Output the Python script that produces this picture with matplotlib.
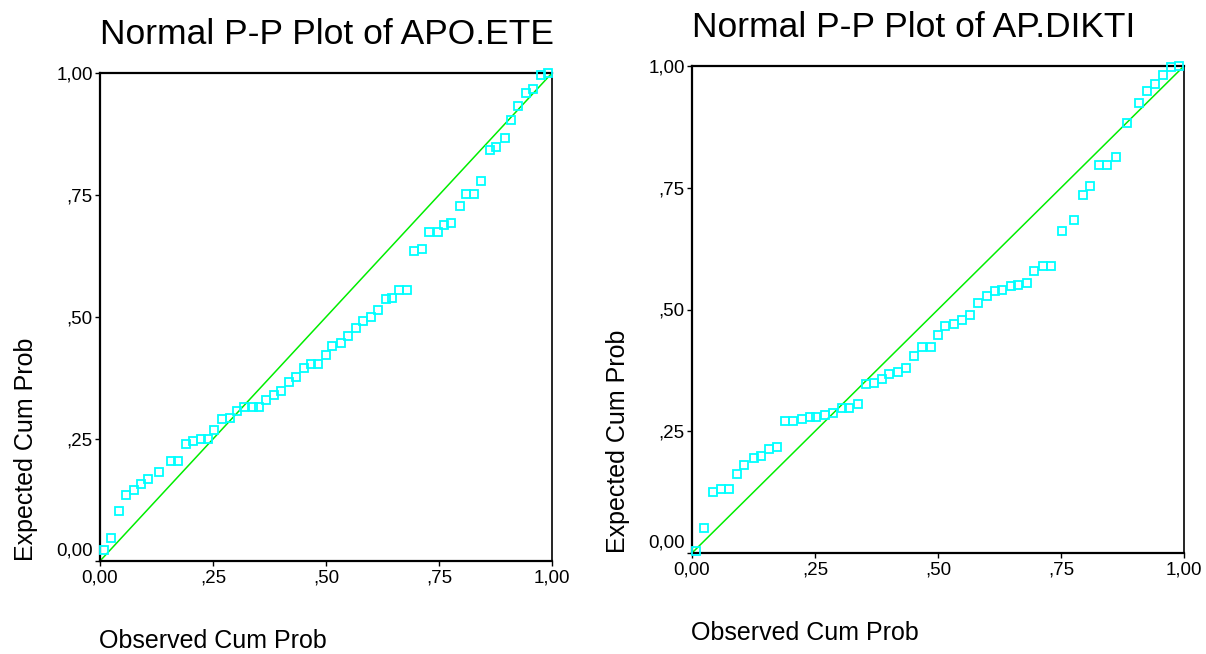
import matplotlib
matplotlib.use("Agg")
import matplotlib.pyplot as plt

plt.rcParams["font.family"] = ["Liberation Sans", "DejaVu Sans"]

# observed / expected cumulative probabilities
apo_obs = [0.009, 0.024, 0.043, 0.057, 0.076, 0.091, 0.106, 0.131, 0.157, 0.172,
           0.190, 0.205, 0.223, 0.238, 0.253, 0.271, 0.287, 0.304, 0.319, 0.338,
           0.352, 0.368, 0.385, 0.400, 0.419, 0.433, 0.452, 0.466, 0.483, 0.500,
           0.514, 0.533, 0.549, 0.566, 0.581, 0.599, 0.614, 0.632, 0.647, 0.662,
           0.680, 0.695, 0.713, 0.728, 0.747, 0.761, 0.777, 0.796, 0.809, 0.827,
           0.844, 0.862, 0.877, 0.895, 0.909, 0.925, 0.942, 0.958, 0.975, 0.991]
apo_exp = [0.022, 0.047, 0.102, 0.135, 0.146, 0.157, 0.168, 0.182, 0.204, 0.204,
           0.240, 0.245, 0.249, 0.249, 0.268, 0.290, 0.293, 0.307, 0.316, 0.316,
           0.316, 0.329, 0.341, 0.348, 0.367, 0.377, 0.396, 0.403, 0.403, 0.422,
           0.441, 0.447, 0.462, 0.477, 0.492, 0.500, 0.514, 0.536, 0.539, 0.555,
           0.555, 0.635, 0.639, 0.674, 0.674, 0.688, 0.693, 0.727, 0.753, 0.753,
           0.779, 0.842, 0.848, 0.867, 0.904, 0.932, 0.959, 0.967, 0.995, 0.999]

dikti_obs = [0.008, 0.024, 0.043, 0.059, 0.076, 0.091, 0.106, 0.125, 0.140, 0.157,
             0.173, 0.190, 0.206, 0.223, 0.240, 0.253, 0.270, 0.287, 0.304, 0.320,
             0.338, 0.353, 0.369, 0.386, 0.401, 0.418, 0.434, 0.452, 0.468, 0.485,
             0.499, 0.514, 0.532, 0.548, 0.566, 0.582, 0.599, 0.615, 0.631, 0.648,
             0.663, 0.680, 0.695, 0.714, 0.729, 0.753, 0.776, 0.794, 0.809, 0.828,
             0.843, 0.861, 0.884, 0.909, 0.925, 0.942, 0.957, 0.973, 0.989]
dikti_exp = [0.005, 0.052, 0.125, 0.132, 0.132, 0.162, 0.180, 0.196, 0.199, 0.214,
             0.218, 0.272, 0.272, 0.276, 0.279, 0.279, 0.284, 0.287, 0.298, 0.298,
             0.305, 0.346, 0.349, 0.357, 0.367, 0.372, 0.379, 0.404, 0.423, 0.423,
             0.448, 0.467, 0.471, 0.478, 0.489, 0.514, 0.527, 0.537, 0.541, 0.548,
             0.551, 0.555, 0.580, 0.589, 0.589, 0.661, 0.684, 0.736, 0.754, 0.797,
             0.797, 0.813, 0.882, 0.923, 0.948, 0.964, 0.982, 0.998, 1.000]

ticks = [0, 0.25, 0.5, 0.75, 1.0]
tick_labels = ["0,00", ",25", ",50", ",75", "1,00"]
diag = [0, 1]

W, H = 1206, 654
fig = plt.figure(figsize=(W / 100, H / 100), dpi=100)


def px(x, y):
    """pixel position (from top-left) -> figure fraction"""
    return x / W, 1 - y / H


def pp_plot(left, top, width, height, obs, exp, title):
    ax = fig.add_axes([left / W, 1 - (top + height) / H, width / W, height / H])
    ax.plot(diag, diag, color="#00ee00", lw=1.1, zorder=2)
    ax.plot(obs, exp, linestyle="none", marker="s", markersize=5.2,
            markerfacecolor="none", markeredgecolor="#00ffff",
            markeredgewidth=1.3, clip_on=False, zorder=5)
    ax.set_xlim(0, 1)
    ax.set_ylim(0, 1)
    ax.set_xticks(ticks)
    ax.set_xticklabels(tick_labels)
    ax.set_yticks(ticks)
    ax.set_yticklabels([""] + tick_labels[1:])
    # lowest y label sits a bit higher than its tick
    ax.annotate("0,00", xy=(0, 0), xycoords="axes fraction", xytext=(-7, 10),
                textcoords="offset pixels", ha="right", va="center", fontsize=13.5)
    ax.tick_params(direction="out", length=3.6, width=1.0, labelsize=13.5)
    ax.tick_params(axis="x", pad=2.5)
    ax.tick_params(axis="y", pad=1.5)
    for s in ax.spines.values():
        s.set_linewidth(1.6)
    ax.spines["right"].set_linewidth(1.2)

    fig.text(*px(left, top - 29), title, fontsize=25.5, ha="left", va="baseline")
    fig.text(*px(left - 1, top + height + 87), "Observed Cum Prob", fontsize=18,
             ha="left", va="baseline")
    fig.text(*px(left - 67, top + height), "Expected Cum Prob", fontsize=18,
             rotation=90, rotation_mode="anchor", ha="left", va="baseline")
    return ax


pp_plot(100, 73, 452, 488, apo_obs, apo_exp, "Normal P-P Plot of APO.ETE")
pp_plot(692, 66, 492, 487, dikti_obs, dikti_exp, "Normal P-P Plot of AP.DIKTI")

plt.savefig("out.png", dpi=100)
